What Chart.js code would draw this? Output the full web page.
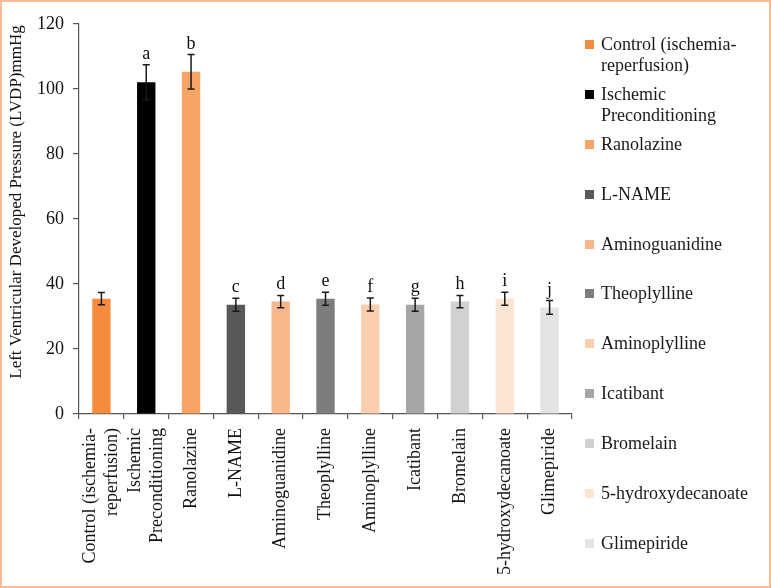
<!DOCTYPE html>
<html>
<head>
<meta charset="utf-8">
<script src="https://cdn.jsdelivr.net/npm/chart.js@4.4.1/dist/chart.umd.min.js"></script>
<style>
  body { margin: 0; background: #fff; }
  #wrap { position: relative; width: 771px; height: 588px; overflow: hidden; }
  #chart { position: absolute; left: 0; top: 0; }
  #frame { position: absolute; left: 0; top: 0; width: 771px; height: 588px; box-sizing: border-box;
           border: 2px solid #f7bc94; pointer-events: none; }
  #legend { position: absolute; left: 585px; top: 0; font-family: "Liberation Serif", serif;
            font-size: 18px; line-height: 21px; color: #1a1a1a; }
  #legend .item { position: absolute; left: 0; white-space: nowrap; }
  #legend .box { position: absolute; left: 0; top: 6px; width: 9px; height: 9px; }
  #legend .txt { position: absolute; left: 16px; top: 0; }
</style>
</head>
<body>
<div id="wrap">
  <canvas id="chart" width="771" height="588"></canvas>
  <div id="legend"></div>
  <div id="frame"></div>
</div>
<script>
// groups (multi-line names are split where the reference wraps them)
const groups = [
  ['Control (ischemia-', 'reperfusion)'],
  ['Ischemic', 'Preconditioning'],
  ['Ranolazine'],
  ['L-NAME'],
  ['Aminoguanidine'],
  ['Theoplylline'],
  ['Aminoplylline'],
  ['Icatibant'],
  ['Bromelain'],
  ['5-hydroxydecanoate'],
  ['Glimepiride']
];
const lvdp = [35.5, 102.1, 105.3, 33.6, 34.6, 35.5, 33.7, 33.6, 34.6, 35.5, 32.8];
const errs = [1.9, 5.4, 5.3, 2.0, 1.9, 2.0, 2.0, 2.0, 1.9, 2.0, 2.1];
const sigLetters = ['', 'a', 'b', 'c', 'd', 'e', 'f', 'g', 'h', 'i', 'j'];
const yTicks = [0, 20, 40, 60, 80, 100, 120];
const colors = ['#f58b3d', '#000000', '#f7a467', '#58585a', '#f8b68a', '#7d7d80',
                '#fbcfad', '#a6a6a9', '#d1d1d3', '#fde5d3', '#e4e4e6'];
const legendY = [44, 94, 144, 194, 244, 293, 343, 393, 443, 493, 543];

const SERIF = '"Liberation Serif", serif';

// HTML legend
const legend = document.getElementById('legend');
groups.forEach((g, i) => {
  const item = document.createElement('div');
  item.className = 'item';
  item.style.top = (legendY[i] - 10) + 'px';
  item.innerHTML = '<span class="box" style="background:' + colors[i] + '"></span>' +
    '<span class="txt">' + g.join('<br>') + '</span>';
  legend.appendChild(item);
});

// error bars, letters, x labels and y title
const extras = {
  id: 'extras',
  afterDatasetsDraw(chart) {
    const ctx = chart.ctx;
    const y = chart.scales.y;
    const x = chart.scales.x;
    const meta = chart.getDatasetMeta(0);
    ctx.save();
    ctx.strokeStyle = '#1a1a1a';
    ctx.lineWidth = 1.5;
    meta.data.forEach((bar, i) => {
      const top = y.getPixelForValue(lvdp[i] + errs[i]);
      const bot = y.getPixelForValue(lvdp[i] - errs[i]);
      ctx.beginPath();
      ctx.moveTo(bar.x, top); ctx.lineTo(bar.x, bot);
      ctx.moveTo(bar.x - 3.5, top); ctx.lineTo(bar.x + 3.5, top);
      ctx.moveTo(bar.x - 3.5, bot); ctx.lineTo(bar.x + 3.5, bot);
      ctx.stroke();
      if (sigLetters[i]) {
        ctx.fillStyle = '#111';
        ctx.font = '18px ' + SERIF;
        ctx.textAlign = 'center';
        ctx.textBaseline = 'alphabetic';
        ctx.fillText(sigLetters[i], bar.x, top - 6);
      }
    });

    // rotated category labels, centred on each tick
    ctx.fillStyle = '#111';
    ctx.font = '18px ' + SERIF;
    ctx.textAlign = 'right';
    ctx.textBaseline = 'middle';
    const lh = 22;
    groups.forEach((g, i) => {
      const cx = x.getPixelForValue(i);
      g.forEach((line, j) => {
        const off = (j - (g.length - 1) / 2) * lh;
        ctx.save();
        ctx.translate(cx + off, y.bottom + 14);
        ctx.rotate(-Math.PI / 2);
        ctx.fillText(line, 0, 0);
        ctx.restore();
      });
    });

    // y axis title
    ctx.font = '17px ' + SERIF;
    ctx.textAlign = 'center';
    ctx.save();
    ctx.translate(17, (y.top + y.bottom) / 2 - 17);
    ctx.rotate(-Math.PI / 2);
    ctx.fillText('Left Ventricular Developed Pressure (LVDP)mmHg', 0, 0);
    ctx.restore();
    ctx.restore();
  }
};

new Chart(document.getElementById('chart'), {
  type: 'bar',
  data: {
    labels: groups.map(g => g.join(' ')),
    datasets: [{
      data: lvdp,
      backgroundColor: colors,
      borderWidth: 0,
      categoryPercentage: 1,
      barPercentage: 0.41
    }]
  },
  options: {
    responsive: false,
    animation: false,
    events: [],
    layout: { padding: { left: 0, top: 24, right: 199, bottom: 0 } },
    plugins: { legend: { display: false }, tooltip: { enabled: false } },
    scales: {
      x: {
        afterFit: s => { s.height = 174; },
        grid: { display: true, drawOnChartArea: false, offset: true, tickLength: 5, color: '#555', lineWidth: 1.2 },
        border: { color: '#555', width: 1.2 },
        ticks: { display: false, autoSkip: false }
      },
      y: {
        min: 0,
        max: 120,
        afterFit: s => { s.width = 79; },
        afterBuildTicks: s => { s.ticks = yTicks.map(v => ({ value: v })); },
        grid: { display: true, drawOnChartArea: false, tickLength: 6, color: '#555', lineWidth: 1.2 },
        border: { color: '#555', width: 1.2 },
        ticks: { color: '#111', padding: 9, font: { family: SERIF, size: 18 } }
      }
    }
  },
  plugins: [extras]
});
</script>
</body>
</html>
